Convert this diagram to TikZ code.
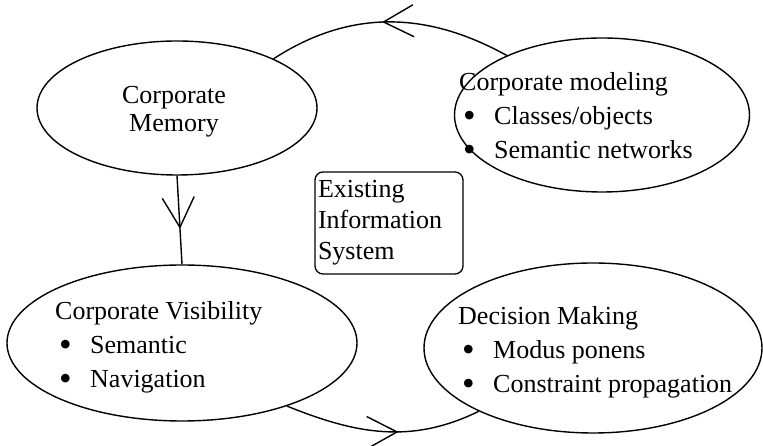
\documentclass[tikz,border=0pt]{standalone}
\usepackage{fontspec}
\setmainfont{Liberation Serif}
\usetikzlibrary{shapes.geometric, arrows.meta, decorations.markings}

\newcommand{\bul}[1]{\makebox[35pt][l]{\hspace{4pt}\raisebox{-3pt}{\fontsize{36}{34}\selectfont\textbullet}}#1}

\begin{document}
\begin{tikzpicture}[x=1pt, y=1pt,
    blob/.style={ellipse, draw, line width=1.4pt},
    txt/.style={align=left, inner sep=0pt, font=\fontsize{26}{34}\selectfont},
    midarrow/.style={line width=1.4pt, postaction={decorate, decoration={markings,
        mark=at position #1 with {\arrow{Straight Barb[length=30pt, width=32pt, line width=1.4pt]}}}}}]

    \useasboundingbox (0,0) rectangle (763,446);

    % Ellipses
    \node[blob, minimum width=280, minimum height=134] (memory) at (177,338) {};
    \node[blob, minimum width=295, minimum height=154] (modeling) at (602,331) {};
    \node[blob, minimum width=350, minimum height=156] (visibility) at (182,103) {};
    \node[blob, minimum width=338, minimum height=170] (decision) at (593,98) {};

    % Texts
    \node[txt, align=center, font=\fontsize{26}{28}\selectfont] (memtext) at (174,334) {Corporate\\Memory};
    \node[txt, anchor=west] (modtext) at (459,329) {Corporate modeling\\\bul{Classes/objects}\\\bul{Semantic networks}};
    \node[txt, anchor=west] (vistext) at (55,99) {Corporate Visibility\\\bul{Semantic}\\\bul{Navigation}};
    \node[txt, anchor=west] (dectext) at (458,94) {Decision Making\\\bul{Modus ponens}\\\bul{Constraint propagation}};

    % Centre box
    \node[draw, rounded corners=8pt, line width=1.3pt, minimum width=148, minimum height=102,
          text width=142, inner sep=3pt, align=left, font=\fontsize{26}{31}\selectfont] (eis) at (389,223)
          {Existing\\Information\\System};

    % Arrows
    \draw[midarrow=0.53] (modeling.148) to[out=151, in=33] (memory.27);
    \draw[midarrow=0.6] (memory.south) -- (visibility.north);
    \draw[midarrow=0.58] (visibility.-31) to[out=-22, in=206] (decision.-151);
\end{tikzpicture}
\end{document}
